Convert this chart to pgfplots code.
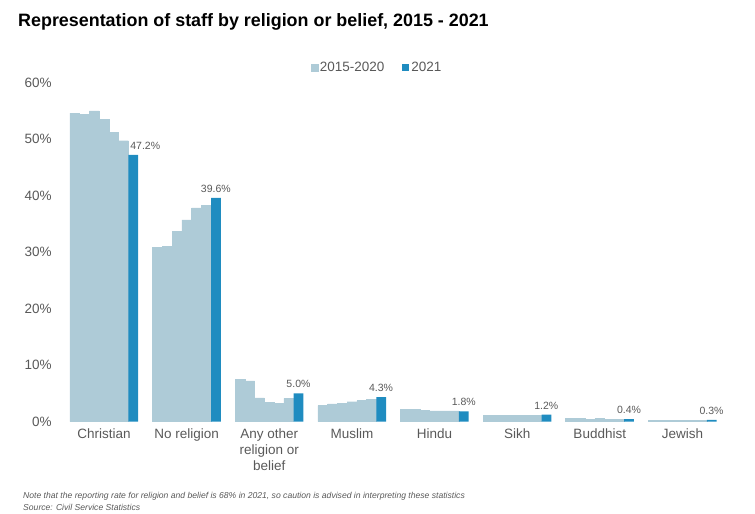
\documentclass[border=0pt]{standalone}
\usepackage{pgfplots}
\pgfplotsset{compat=1.18}
\usepackage{fontspec}
\setmainfont{Liberation Sans}
\definecolor{light}{HTML}{AECBD7}
\definecolor{dark}{HTML}{1F8CC0}
\definecolor{txt}{HTML}{595959}

\begin{document}
\begin{tikzpicture}[x=1pt,y=1pt]
\useasboundingbox (0,-514) rectangle (755,0);
\node[anchor=west, inner sep=0pt, font=\fontsize{17.9}{21}\selectfont\bfseries] at (18,-22) {Representation of staff by religion or belief, 2015 - 2021};
\begin{axis}[
  at={(62.7pt,-421.5pt)}, anchor=south west,
  scale only axis, width=661pt, height=339pt,
  xmin=-0.5, xmax=7.5, ymin=0, ymax=60,
  axis line style={draw=none}, tick style={draw=none},
  ytick={0,10,...,60},
  yticklabel={\pgfmathprintnumber{\tick}\%},
  /pgf/number format/assume math mode=true,
  xtick={0,...,7},
  xticklabels={Christian, No religion, {Any other\\religion or\\belief}, Muslim, Hindu, Sikh, Buddhist, Jewish},
  xticklabel style={align=center, font=\fontsize{13.5}{16}\selectfont, text=txt, yshift=-4pt},
  yticklabel style={font=\fontsize{13.5}{16}\selectfont, text=txt, xshift=-7.5pt},
  legend columns=2,
  legend style={at={(0.4755,1.044)}, anchor=center, draw=none, fill=none,
    font=\fontsize{13.5}{16}\selectfont, text=txt,
    /tikz/every even column/.append style={column sep=16pt}},
  clip=false,
]
\addplot[ybar, bar width=0.118, bar shift=-0.354, fill=light, draw=light, line width=0.4pt,
  legend image code/.code={\fill[light] (0pt,-3.5pt) rectangle (7pt,3.5pt);}]
  coordinates {(0,54.6) (1,30.8) (2,7.4) (3,2.8) (4,2.1) (5,1.1) (6,0.5) (7,0.2)};
\addlegendentry{2015-2020}
\addplot[ybar, bar width=0.118, bar shift=-0.236, fill=light, draw=light, line width=0.4pt, forget plot]
  coordinates {(0,54.4) (1,31.0) (2,7.2) (3,3.1) (4,2.1) (5,1.1) (6,0.5) (7,0.2)};
\addplot[ybar, bar width=0.118, bar shift=-0.118, fill=light, draw=light, line width=0.4pt, forget plot]
  coordinates {(0,55.0) (1,33.6) (2,4.2) (3,3.2) (4,2.0) (5,1.1) (6,0.4) (7,0.2)};
\addplot[ybar, bar width=0.118, bar shift=0, fill=light, draw=light, line width=0.4pt, forget plot]
  coordinates {(0,53.5) (1,35.7) (2,3.4) (3,3.5) (4,1.9) (5,1.1) (6,0.5) (7,0.2)};
\addplot[ybar, bar width=0.118, bar shift=0.118, fill=light, draw=light, line width=0.4pt, forget plot]
  coordinates {(0,51.2) (1,37.8) (2,3.2) (3,3.7) (4,1.9) (5,1.1) (6,0.4) (7,0.2)};
\addplot[ybar, bar width=0.118, bar shift=0.236, fill=light, draw=light, line width=0.4pt, forget plot]
  coordinates {(0,49.7) (1,38.3) (2,4.1) (3,3.9) (4,1.9) (5,1.1) (6,0.4) (7,0.2)};
\addplot[ybar, bar width=0.118, bar shift=0.354, fill=dark, draw=none,
  legend image code/.code={\fill[dark] (0pt,-3.5pt) rectangle (7pt,3.5pt);},
  visualization depends on={\thisrow{dx}\as\dx},
  nodes near coords={\pgfmathprintnumber[fixed, fixed zerofill, precision=1]{\pgfplotspointmeta}\%},
  nodes near coords style={font=\fontsize{10.5}{12}\selectfont, text=txt, anchor=south, yshift=2pt, xshift=\dx pt}]
  table[x=x, y=y] {
x y dx
0 47.2 41.2
1 39.6 29.2
2 5.0 29.2
3 4.3 29.2
4 1.8 29.2
5 1.2 29.2
6 0.4 29.2
7 0.3 29.2
};
\addlegendentry{2021}
\end{axis}
\node[anchor=west, inner sep=0pt, text=txt, font=\fontsize{8.6}{10}\selectfont\itshape] at (23,-496) {Note that the reporting rate for religion and belief is 68\% in 2021, so caution is advised in interpreting these statistics};
\node[anchor=west, inner sep=0pt, text=txt, font=\fontsize{8.6}{10}\selectfont\itshape] at (23,-507.5) {Source: Civil Service Statistics};
\end{tikzpicture}
\end{document}
